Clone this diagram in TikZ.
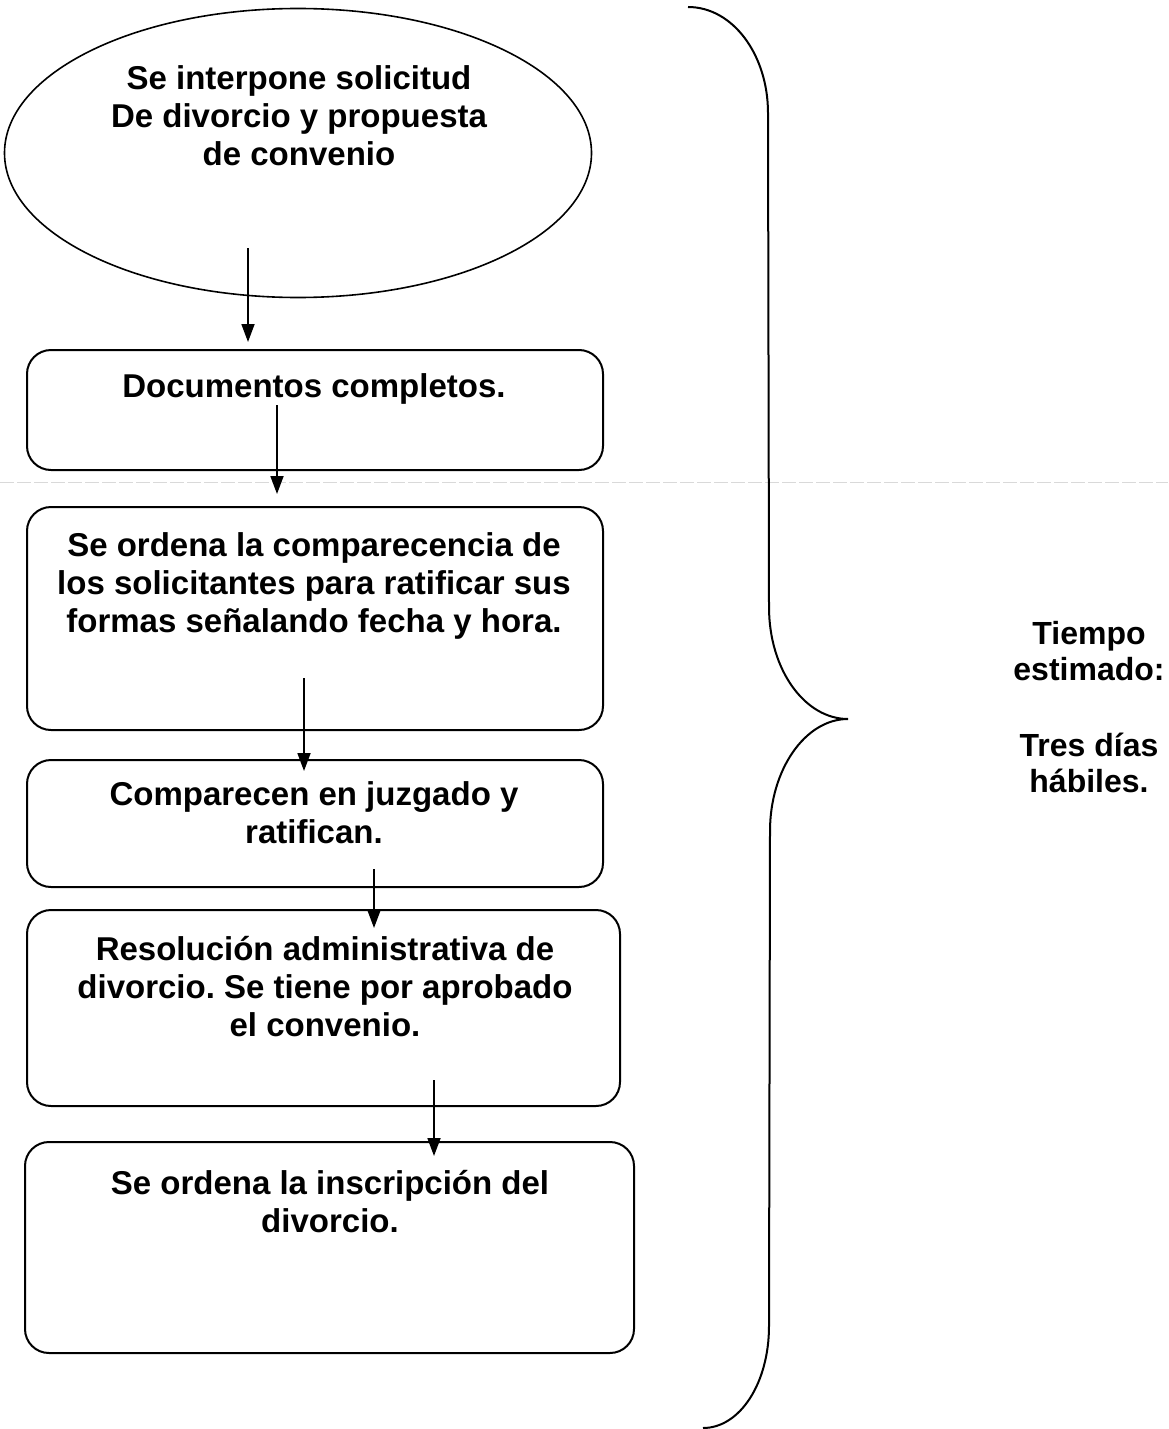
\documentclass[tikz,border=0pt]{standalone}
\usepackage{fontspec}
\setmainfont{Liberation Sans}
\usetikzlibrary{shapes.geometric,arrows.meta}
\frenchspacing
\begin{document}
\begin{tikzpicture}[x=1pt,y=-1pt,
  box/.style={draw, line width=2pt, rounded corners=24pt, inner sep=0pt},
  oval/.style={draw, ellipse, line width=1.6pt, inner sep=0pt},
  txt/.style={align=center, font=\fontsize{33}{38}\selectfont\bfseries, inner sep=0pt},
  side/.style={align=center, font=\fontsize{32}{36}\selectfont\bfseries, inner sep=0pt},
  arr/.style={line width=1.8pt, -{Triangle[length=18pt,width=13pt]}},
  bracestyle/.style={line width=2pt},
  scanline/.style={gray!30, line width=0.6pt, dash pattern=on 14pt off 3pt}]
\useasboundingbox (0,0) rectangle (1168,1429);

% scan artefact line
\draw[scanline] (0,482) -- (1168,482);

% shapes
\node[oval, minimum width=587pt, minimum height=289pt] (e) at (298,153) {};
\node[box, minimum width=576pt, minimum height=120pt] (b1) at (315,410) {};
\node[box, minimum width=576pt, minimum height=223pt] (b2) at (315,618.5) {};
\node[box, minimum width=576pt, minimum height=127pt] (b3) at (315,823.5) {};
\node[box, minimum width=593pt, minimum height=196pt] (b4) at (323.5,1008) {};
\node[box, minimum width=609pt, minimum height=211pt] (b5) at (329.5,1247.5) {};

% texts
\node[txt] (t0) at (299,116) {Se interpone solicitud\\De divorcio y propuesta\\de convenio};
\node[txt] (t1) at (314,389) {Documentos completos.};
\node[txt] (t2) at (314,586) {Se ordena la comparecencia de\\los solicitantes para ratificar sus\\formas señalando fecha y hora.};
\node[txt] (t3) at (314,813) {Comparecen en juzgado y\\ratifican.};
\node[txt] (t4) at (325,987) {Resolución administrativa de\\divorcio. Se tiene por aprobado\\el convenio.};
\node[txt] (t5) at (330,1202) {Se ordena la inscripción del\\divorcio.};
\node[side] (t6) at (1089,707) {Tiempo\\estimado:\\[40pt]Tres días\\hábiles.};

% connectors
\coordinate (s1) at (248,248);
\coordinate (s2) at (277,405);
\coordinate (s3) at (304,678);
\coordinate (s4) at (374,869);
\coordinate (s5) at (434,1080);
\draw[arr, shorten >=7pt] (s1) -- (s1 |- b1.north);
\draw[arr, shorten >=12pt] (s2) -- (s2 |- b2.north);
\draw[arr, shorten >=-12pt] (s3) -- (s3 |- b3.north);
\draw[arr, shorten >=-19pt] (s4) -- (s4 |- b4.north);
\draw[arr, shorten >=-15pt] (s5) -- (s5 |- b5.north);

% brace
\draw[bracestyle] (688,7) .. controls (733,7) and (768,55) .. (768,113)
  -- (769,607) .. controls (769,670) and (805,719) .. (848,719)
  .. controls (805,719) and (770,770) .. (770,831)
  -- (769,1326) .. controls (769,1383) and (740,1428) .. (703,1428);
\end{tikzpicture}
\end{document}
